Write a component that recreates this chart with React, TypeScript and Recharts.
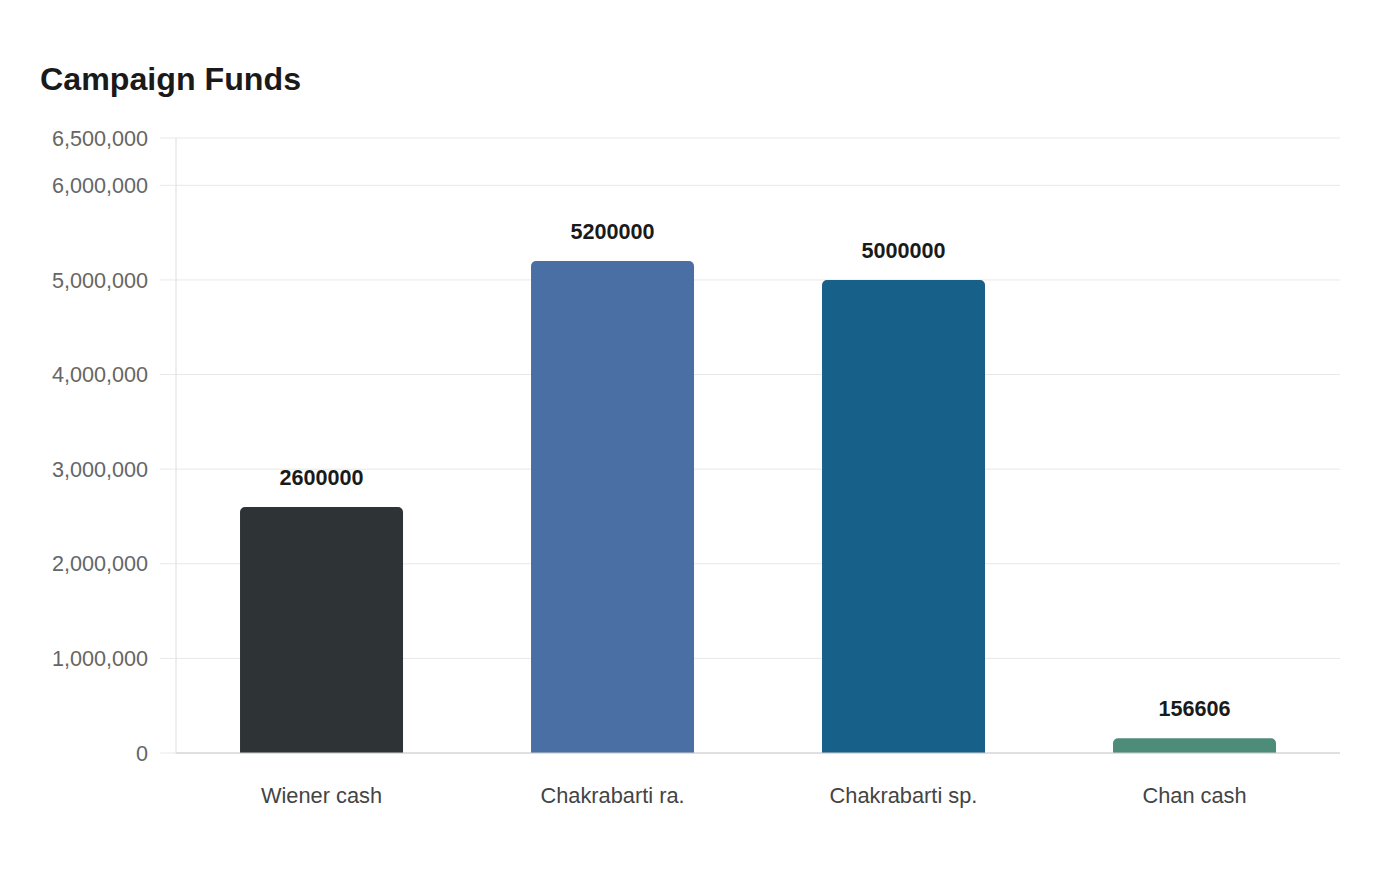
import React from "react";
import { BarChart, Bar, XAxis, YAxis, CartesianGrid, Cell, LabelList } from "recharts";

const categories = ["Wiener cash", "Chakrabarti ra.", "Chakrabarti sp.", "Chan cash"];
const values = [2600000, 5200000, 5000000, 156606];
const colors = ["#2e3436", "#4a6fa5", "#17608a", "#4e8c7a"];
const yTicks = [0, 1000000, 2000000, 3000000, 4000000, 5000000, 6000000, 6500000];

const data = categories.map((name, i) => ({ name, value: values[i] }));

const FONT = '"Liberation Sans", Arial, sans-serif';

export default function App() {
  return (
    <div style={{ position: "absolute", left: 0, top: 0, width: 1400, height: 880, background: "#fff", fontFamily: FONT }}>
      <div style={{ position: "absolute", left: 40, top: 59, fontSize: 32.2, fontWeight: 700, color: "#1a1a1a", lineHeight: "40px" }}>
        Campaign Funds
      </div>
      <BarChart
        width={1400}
        height={880}
        data={data}
        margin={{ top: 138, right: 60, bottom: 67, left: 0 }}
        barCategoryGap="22%"
      >
        <CartesianGrid vertical={false} stroke="#e8e8e8" />
        <XAxis
          dataKey="name"
          height={60}
          tickLine={false}
          tickSize={6}
          tickMargin={29}
          stroke="#cccccc"
          tick={{ fill: "#444444", fontSize: 21.8, fontFamily: FONT }}
        />
        <YAxis
          width={176}
          domain={[0, 6500000]}
          ticks={yTicks}
          interval={0}
          tickSize={16}
          tickMargin={12}
          tickLine={{ stroke: "#e8e8e8" }}
          axisLine={{ stroke: "#dddddd" }}
          tickFormatter={(v: number) => v.toLocaleString("en-US")}
          tick={{ fill: "#666666", fontSize: 21.6, fontFamily: FONT }}
        />
        <Bar dataKey="value" isAnimationActive={false} radius={[5, 5, 0, 0]}>
          {data.map((d, i) => (
            <Cell key={d.name} fill={colors[i]} />
          ))}
          <LabelList
            dataKey="value"
            position="top"
            offset={22}
            fill="#1a1a1a"
            fontSize={21.6}
            fontWeight={700}
            fontFamily={FONT}
          />
        </Bar>
      </BarChart>
    </div>
  );
}
